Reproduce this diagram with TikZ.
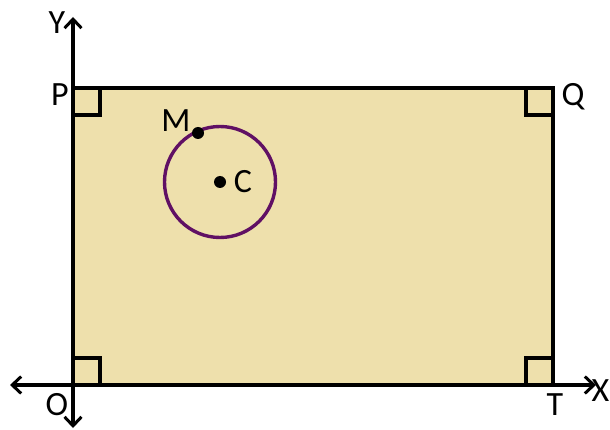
\documentclass[tikz,border=0pt]{standalone}
\usepackage{fontspec}
\setmainfont{Carlito}
\usepackage{tikz}
\usetikzlibrary{positioning, arrows.meta}
\definecolor{plotfill}{RGB}{238,224,172}
\definecolor{circpurple}{RGB}{96,16,100}
\tikzset{
	axis/.style={line width=3.6pt, {Straight Barb[length=9pt,width=17pt,line width=3pt]}-{Straight Barb[length=9pt,width=17pt,line width=3pt]}},
	plot/.style={line width=3.6pt, fill=plotfill},
	corner/.style={line width=3.6pt},
	ring/.style={circpurple, line width=3.4pt},
	dot/.style={circle, fill=black, inner sep=0pt, minimum size=12pt},
	lbl/.style={font=\fontsize{34}{40}\selectfont, inner sep=0pt}
}

\begin{document}
\begin{tikzpicture}[x=1pt,y=-1pt]
\useasboundingbox (0,0) rectangle (610,430);
\coordinate (o) at (73,385);
\coordinate (p) at (73,88);
\coordinate (q) at (553,88);
\coordinate (t) at (553,385);
\coordinate (xl) at (10,385);
\coordinate (xr) at (596,385);
\coordinate (yt) at (73,17);
\coordinate (yb) at (73,428);
\coordinate (c) at (220,182);
% plot
\draw [plot] (o) -- (p) -- (q) -- (t) -- cycle;
\draw [corner] (73,115) -| (100,88);
\draw [corner] (526,88) |- (553,115);
\draw [corner] (73,358) -| (100,385);
\draw [corner] (526,385) |- (553,358);
% axes
\draw [axis] (xl) -- (xr);
\draw [axis] (yb) -- (yt);
% circle
\draw [ring] (c) circle (55.5);
\node [dot] (cdot) at (c) {};
\node [dot] (mdot) at (198,133) {};
   \node [lbl] (Y) at (57,23) {Y};
   \node [lbl] (P) at (60,95) {P};
   \node [lbl] (Q) at (573,97) {Q};
   \node [lbl] (M) at (176,121) {M};
   \node [lbl] (C) at (243,182) {C};
   \node [lbl] (O) at (57,405) {O};
   \node [lbl] (T) at (555,405) {T};
   \node [lbl, anchor=east] (X) at (609.5,391) {X};
\end{tikzpicture}
\end{document}
